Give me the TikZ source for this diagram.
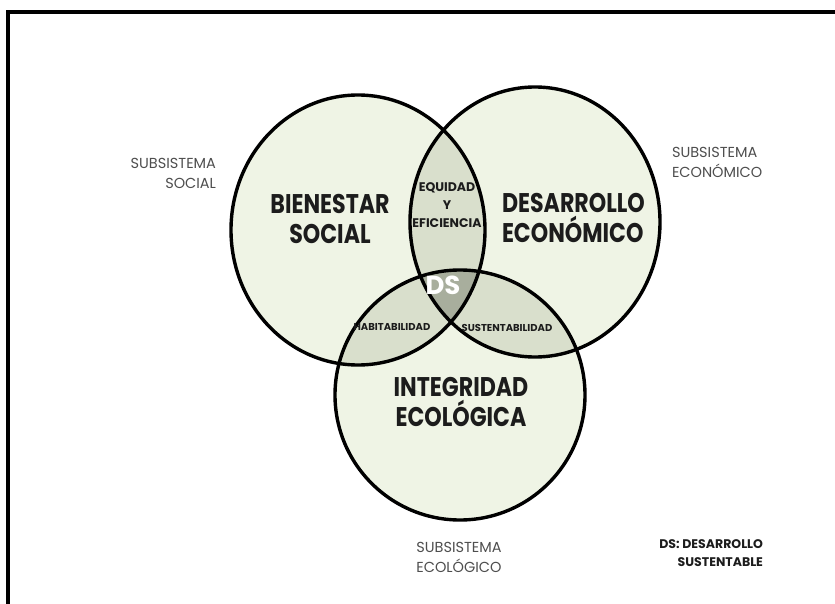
\documentclass[tikz,border=0pt]{standalone}
\usepackage{fontspec}
\setmainfont{Poppins}
\newfontfamily\titlef[FakeStretch=0.82]{Poppins}
\definecolor{fillone}{HTML}{EFF4E5}
\definecolor{filltwo}{HTML}{D9DFCC}
\definecolor{fillthree}{HTML}{A8AE9D}
\definecolor{graytxt}{HTML}{4E4E4E}
\definecolor{darktxt}{HTML}{1C1C1C}
\begin{document}
\begin{tikzpicture}[x=1pt,y=-1pt,
  every node/.style={inner sep=0pt, outer sep=0pt},
  bigtitle/.style={font=\titlef\bfseries\fontsize{27}{30}\selectfont, text=darktxt},
  lenslabel/.style={font=\bfseries\fontsize{10}{12}\selectfont, text=darktxt},
  subsys/.style={font=\fontsize{14.5}{20}\selectfont, text=graytxt},
  outline/.style={draw=black, line width=3.4pt}]
\useasboundingbox (0,0) rectangle (835,604);
\begin{scope}
\clip (0,0) rectangle (835,604);
\fill[white] (0,0) rectangle (835,604);
\draw[line width=3.4pt] (845,12) -- (8,12) -- (8,615);
\end{scope}
\def\cS{(358,230) ellipse [x radius=127, y radius=135]}
\def\cE{(535,222) ellipse [x radius=125, y radius=135]}
\def\cB{(460,395) ellipse [x radius=125, y radius=125]}
% fills
\fill[fillone] \cS;
\fill[fillone] \cE;
\fill[fillone] \cB;
\begin{scope}
  \clip \cS;
  \fill[filltwo] \cE;
  \fill[filltwo] \cB;
\end{scope}
\begin{scope}
  \clip \cE;
  \fill[filltwo] \cB;
\end{scope}
\begin{scope}
  \clip \cS;
  \clip \cE;
  \fill[fillthree] \cB;
\end{scope}
% outlines
\draw[outline] \cS;
\draw[outline] \cE;
\draw[outline] \cB;
% labels
\node[bigtitle, align=center] (social) at (330,219) {\baselineskip=32pt BIENESTAR\\SOCIAL};
\node[bigtitle, align=left, anchor=west] (econ) at (502,218) {\baselineskip=28pt DESARROLLO\\ECONÓMICO};
\node[bigtitle, align=center] (eco) at (461,402) {\baselineskip=29pt INTEGRIDAD\\ECOLÓGICA};
\node[font=\bfseries\fontsize{12.5}{18}\selectfont, text=darktxt, align=center] (equi) at (447,205) {EQUIDAD\\Y\\EFICIENCIA};
\node[font=\bfseries\fontsize{26}{30}\selectfont, text=white] (ds) at (443,285) {DS};
\node[lenslabel] (habit) at (392,327) {HABITABILIDAD};
\node[lenslabel] (sust) at (507,328) {SUSTENTABILIDAD};
\node[subsys, align=right, anchor=east] (ssocial) at (216,173) {SUBSISTEMA\\SOCIAL};
\node[subsys, align=left, anchor=west] (secon) at (672,162.5) {SUBSISTEMA\\ECONÓMICO};
\node[subsys, align=center] (secol) at (459,557.5) {SUBSISTEMA\\ECOLÓGICO};
\node[font=\bfseries\fontsize{12.5}{18}\selectfont, text=darktxt, align=right, anchor=east] (legend) at (763,553) {DS: DESARROLLO\\SUSTENTABLE};
\end{tikzpicture}
\end{document}
